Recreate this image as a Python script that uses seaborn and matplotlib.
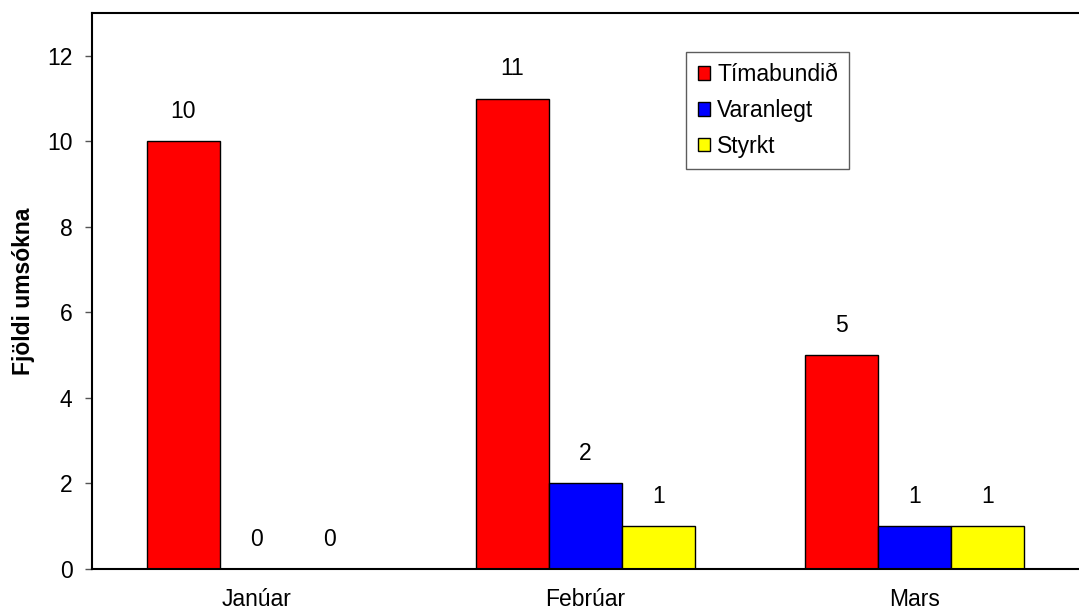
import numpy as np
import pandas as pd
import matplotlib
matplotlib.use("Agg")
import matplotlib.pyplot as plt
import seaborn as sns

# Data
manudir = ['Janúar', 'Febrúar', 'Mars']
tegundir = ['Tímabundið', 'Varanlegt', 'Styrkt']
timabundid = [10, 11, 5]
varanlegt = [0, 2, 1]
styrkt = [0, 1, 1]
litir = ['#FF0000', '#0000FF', '#FFFF00']

df = pd.DataFrame({
    'Mánuður': manudir * 3,
    'Tegund': [t for t in tegundir for _ in manudir],
    'Fjöldi': timabundid + varanlegt + styrkt,
})

sns.set_style('white')
plt.rcParams['font.family'] = ['Liberation Sans', 'DejaVu Sans']
plt.rcParams['text.color'] = 'black'
plt.rcParams['axes.labelcolor'] = 'black'
plt.rcParams['xtick.labelcolor'] = 'black'
plt.rcParams['ytick.labelcolor'] = 'black'
FS = 16.5

fig = plt.figure(figsize=(10.79, 6.13), dpi=100)
ax = fig.add_axes([92 / 1079, 44 / 613, 987 / 1079, 556 / 613])

sns.barplot(data=df, x='Mánuður', y='Fjöldi', hue='Tegund', order=manudir,
            hue_order=tegundir, palette=litir, width=3 / 4.5, gap=0,
            edgecolor='black', linewidth=1.0, saturation=1, ax=ax)

for cont in ax.containers:
    ax.bar_label(cont, fmt='%d', padding=13, fontsize=FS, color='black')

ax.set_ylim(0, 13)
ax.set_xlim(-0.5, 2.5)
ax.set_yticks(np.arange(0, 13, 2))
ax.set_xlabel('')
ax.set_ylabel('Fjöldi umsókna', fontsize=FS, fontweight='bold', labelpad=9, color='black')
ax.tick_params(axis='both', labelsize=FS)

# x-ticks sit on the category boundaries, labels in the middle
ax.set_xticks([-0.5, 0.5, 1.5, 2.5])
ax.set_xticklabels([])
ax.set_xticks([0, 1, 2], minor=True)
ax.set_xticklabels(manudir, minor=True)
ax.tick_params(axis='x', which='major', direction='out', length=6, width=1, color='#555555')
ax.tick_params(axis='x', which='minor', length=0, pad=14, labelsize=FS, labelcolor='black')
ax.tick_params(axis='y', direction='out', length=5, width=1, color='#555555', left=True,
               pad=9, labelcolor='black')

for s in ax.spines.values():
    s.set_color('black')
    s.set_linewidth(1.5)
ax.spines['right'].set_visible(False)

leg = ax.legend(loc='upper left', bbox_to_anchor=(0.602, 0.930), borderaxespad=0,
                fontsize=FS, frameon=True, fancybox=False, handlelength=0.55,
                handleheight=0.55, handletextpad=0.3, labelspacing=0.55,
                borderpad=0.5, title=None)
leg.get_frame().set_edgecolor('#333333')
leg.get_frame().set_linewidth(1.0)
for t in leg.get_texts():
    t.set_color('black')

fig.savefig('out.png', dpi=100)
